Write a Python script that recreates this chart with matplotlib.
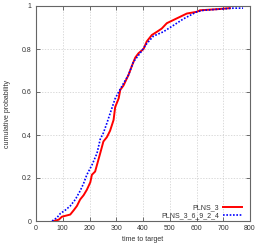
import matplotlib
matplotlib.use("Agg")
import matplotlib.pyplot as plt

plns3_x = [66, 85, 97, 128, 141, 153, 165, 178, 190, 203, 209, 221, 230, 240, 252, 265, 277, 290,
           296, 309, 315, 327, 346, 358, 371, 383, 402, 414, 433, 452, 470, 489, 514, 539, 564,
           601, 613, 675, 725]
plns3_y = [0.0, 0.006, 0.02, 0.03, 0.05, 0.07, 0.1, 0.12, 0.145, 0.18, 0.215, 0.23, 0.27, 0.315,
           0.37, 0.39, 0.42, 0.47, 0.53, 0.57, 0.61, 0.63, 0.68, 0.72, 0.76, 0.78, 0.80, 0.835,
           0.865, 0.88, 0.895, 0.92, 0.935, 0.95, 0.965, 0.973, 0.98, 0.985, 0.99]

plns36_x = [60, 78, 91, 109, 128, 147, 165, 178, 190, 209, 228, 240, 252, 265, 277, 296, 309, 327,
            346, 364, 389, 414, 439, 476, 514, 551, 601, 626, 738, 774]
plns36_y = [0.0, 0.015, 0.035, 0.05, 0.07, 0.1, 0.14, 0.175, 0.215, 0.26, 0.315, 0.38, 0.41, 0.455,
            0.5, 0.57, 0.6, 0.64, 0.68, 0.74, 0.78, 0.825, 0.86, 0.88, 0.91, 0.94, 0.973, 0.98,
            0.99, 0.99]

labels = ["PLNS_3", "PLNS_3_6_9_2_4"]
xticks = [0, 100, 200, 300, 400, 500, 600, 700, 800]
yticks = [0, 0.2, 0.4, 0.6, 0.8, 1]
ytick_labels = ["0", "0.2", "0.4", "0.6", "0.8", "1"]

plt.rcParams["font.family"] = ["Liberation Sans", "DejaVu Sans"]
txt_color = "#333333"

fig = plt.figure(figsize=(2.65, 2.46), dpi=100)
ax = fig.add_axes([36 / 265, 25 / 246, 214 / 265, 215 / 246])

ax.plot(plns3_x, plns3_y, color="#ff0000", lw=1.4, label=labels[0])
ax.plot(plns36_x, plns36_y, color="#0000ff", lw=1.2, ls=(0, (1, 1)), label=labels[1])

ax.set_xlim(0, 800)
ax.set_ylim(0, 1)
ax.set_xticks(xticks)
ax.set_yticks(yticks)
ax.set_yticklabels(ytick_labels)
ax.tick_params(direction="in", top=True, right=True, labelsize=5, length=3, width=0.6,
               color="#555555", labelcolor=txt_color, pad=3)
ax.grid(True, color="#cccccc", ls=(0, (2, 2)), lw=0.5)
for s in ax.spines.values():
    s.set_color("#666666")
    s.set_linewidth(0.8)

ax.set_xlabel("time to target", fontsize=5, labelpad=3, color=txt_color)
ax.set_ylabel("cumulative probability", fontsize=5, labelpad=8, color=txt_color)

leg = ax.legend(loc="lower right", fontsize=5, frameon=False, markerfirst=False,
                handlelength=2.75, handletextpad=0.55, labelspacing=0.12,
                borderpad=0, borderaxespad=0, bbox_to_anchor=(0.963, 0.007))
for t in leg.get_texts():
    t.set_color(txt_color)

fig.savefig("out.png", dpi=100)
